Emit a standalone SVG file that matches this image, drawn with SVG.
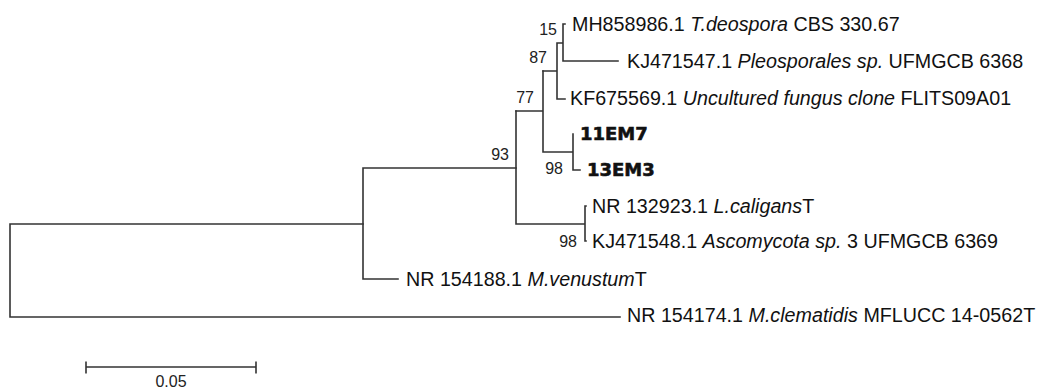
<svg xmlns="http://www.w3.org/2000/svg" width="1039" height="390" viewBox="0 0 1039 390">
<style>
  .br { fill: none; stroke: #333; stroke-width: 1.6; stroke-linecap: square; }
  .lb { font-family: "Liberation Sans", Arial, sans-serif; font-size: 19.7px; fill: #111; }
  .it { font-style: italic; }
  .bd { font-family: "DejaVu Sans", "Liberation Sans", sans-serif; font-size: 18px; font-weight: bold; fill: #111; stroke: #111; stroke-width: 0.6; }
  .bs { font-family: "Liberation Sans", Arial, sans-serif; font-size: 16px; fill: #222; text-anchor: end; }
  .sc { font-family: "Liberation Sans", Arial, sans-serif; font-size: 16px; fill: #222; text-anchor: middle; }
</style>
<rect width="1039" height="390" fill="#fff"/>
<g id="connectors">
  <path class="br" d="M10 224 V317 M10 224 H363 M10 317 H620"/>
  <path class="br" d="M363 168 V279 H398 M363 168 H516"/>
  <path class="br" d="M516 111 V224 H585 M585 206 V241 M585 206 H586 M585 241 H586"/>
  <path class="br" d="M516 111 H543 M543 71 V152 H573 M573 134 V170 H580"/>
  <path class="br" d="M543 71 H557 M557 43 V99 H565 M557 43 H563 M563 24 V61 H618 M563 24 H565"/>
</g>
<g id="leaf-MH858986"><text class="lb" x="572" y="31">MH858986.1 <tspan class="it">T.deospora</tspan> CBS 330.67</text></g>
<g id="leaf-KJ471547"><text class="lb" x="627" y="68">KJ471547.1 <tspan class="it">Pleosporales sp.</tspan> UFMGCB 6368</text></g>
<g id="leaf-KF675569"><text class="lb" x="570" y="105">KF675569.1 <tspan class="it">Uncultured fungus clone</tspan> FLITS09A01</text></g>
<g id="leaf-11EM7"><text class="bd" x="580" y="140">11EM7</text></g>
<g id="leaf-13EM3"><text class="bd" x="587" y="176">13EM3</text></g>
<g id="leaf-NR132923"><text class="lb" x="592" y="213">NR 132923.1 <tspan class="it">L.caligans</tspan>T</text></g>
<g id="leaf-KJ471548"><text class="lb" x="592" y="248">KJ471548.1 <tspan class="it">Ascomycota sp.</tspan> 3 UFMGCB 6369</text></g>
<g id="leaf-NR154188"><text class="lb" x="406" y="286">NR 154188.1 <tspan class="it">M.venustum</tspan>T</text></g>
<g id="leaf-NR154174"><text class="lb" x="627" y="322">NR 154174.1 <tspan class="it">M.clematidis</tspan> MFLUCC 14-0562T</text></g>
<g id="bootstrap">
  <text class="bs" x="557" y="35">15</text>
  <text class="bs" x="547" y="63">87</text>
  <text class="bs" x="534" y="103">77</text>
  <text class="bs" x="509" y="160">93</text>
  <text class="bs" x="563" y="174">98</text>
  <text class="bs" x="577" y="247">98</text>
</g>
<g id="scale-bar">
  <path class="br" d="M86 367 H256 M86 361.5 V373.5 M256 361.5 V373.5" style="stroke-linecap:butt"/>
  <text class="sc" x="171" y="387">0.05</text>
</g>
</svg>
